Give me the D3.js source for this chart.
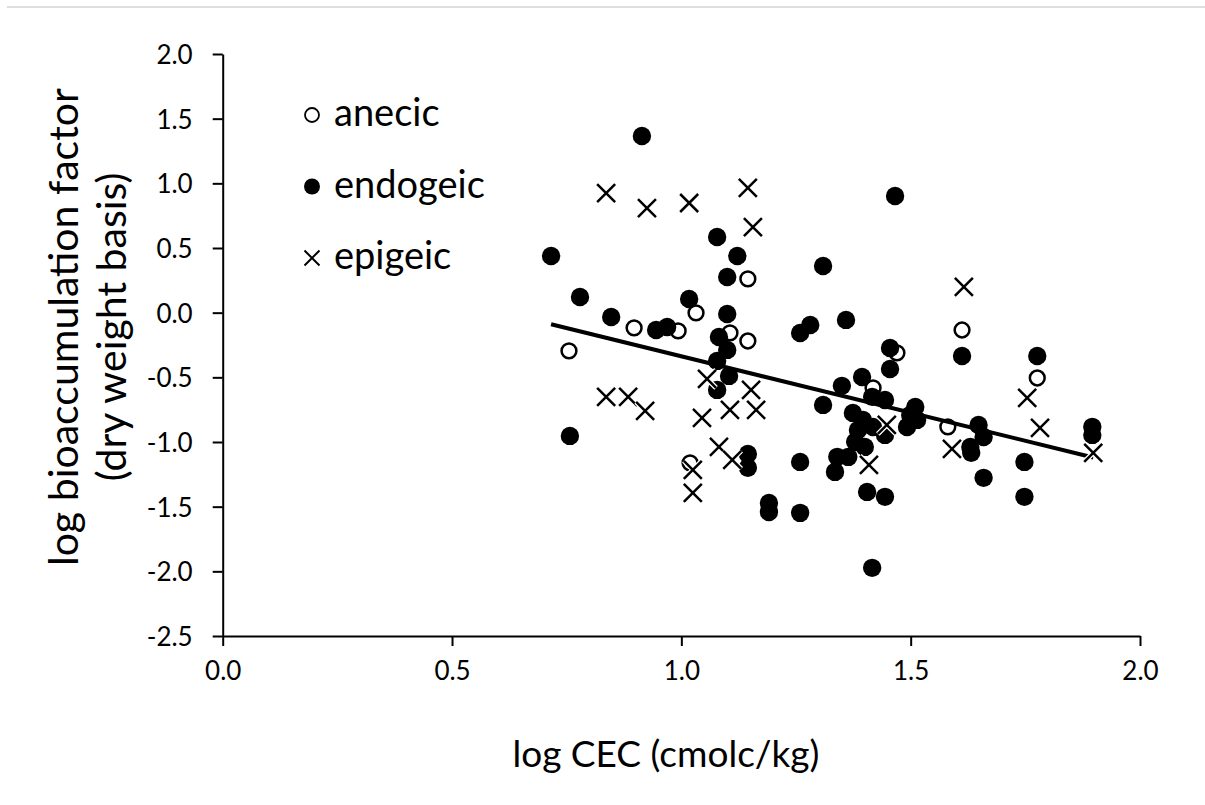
<!DOCTYPE html>
<html>
<head>
<meta charset="utf-8">
<script src="https://cdn.jsdelivr.net/npm/d3@7"></script>
<style>
  body { margin: 0; background: #fff; }
  svg { display: block; font-family: Lato, "Open Sans", sans-serif; }
  .tick text { fill: #000; }
</style>
</head>
<body>
<div id="chart"></div>
<script>
// anecic (open circles): [log CEC, log BAF]
const anecic = [
  [0.755, -0.296], [0.897, -0.118], [0.993, -0.141], [1.032, -0.002],
  [1.106, -0.157], [1.145, -0.219], [1.145, 0.261], [1.019, -1.162],
  [1.418, -0.582], [1.470, -0.311], [1.612, -0.134], [1.581, -0.883],
  [1.776, -0.505]
];

// endogeic (filled circles)
const endogeic = [
  [0.716, 0.438], [0.757, -0.953], [0.779, 0.121], [0.847, -0.033],
  [0.914, 1.366], [0.945, -0.134], [0.969, -0.111], [1.017, 0.106],
  [1.078, 0.585], [1.122, 0.438], [1.100, 0.276], [1.100, -0.010],
  [1.082, -0.188], [1.100, -0.288], [1.078, -0.373], [1.104, -0.489],
  [1.078, -0.597], [1.145, -1.092], [1.145, -1.200], [1.191, -1.472],
  [1.191, -1.542], [1.259, -1.154], [1.259, -1.548], [1.466, 0.902],
  [1.309, 0.361], [1.281, -0.095], [1.259, -0.157], [1.359, -0.056],
  [1.455, -0.273], [1.612, -0.335], [1.455, -0.435], [1.394, -0.497],
  [1.350, -0.566], [1.309, -0.713], [1.416, -0.651], [1.444, -0.675],
  [1.374, -0.775], [1.396, -0.829], [1.385, -0.907], [1.418, -0.884],
  [1.379, -0.999], [1.400, -1.038], [1.444, -0.945], [1.510, -0.729],
  [1.499, -0.791], [1.492, -0.884], [1.514, -0.829], [1.340, -1.115],
  [1.364, -1.115], [1.335, -1.231], [1.405, -1.386], [1.444, -1.424],
  [1.416, -1.973], [1.776, -0.335], [1.896, -0.883], [1.896, -0.945],
  [1.648, -0.868], [1.659, -0.961], [1.630, -1.038], [1.632, -1.084],
  [1.659, -1.277], [1.748, -1.154], [1.748, -1.424]
];

// epigeic (crosses)
const epigeic = [
  [0.836, 0.925], [0.925, 0.809], [1.017, 0.848], [1.145, 0.964],
  [1.156, 0.662], [0.836, -0.651], [0.884, -0.651], [0.921, -0.760],
  [1.056, -0.512], [1.045, -0.814], [1.106, -0.752], [1.152, -0.597],
  [1.163, -0.752], [1.082, -1.038], [1.111, -1.138], [1.025, -1.215],
  [1.025, -1.393], [1.448, -0.868], [1.409, -1.177], [1.616, 0.199],
  [1.590, -1.054], [1.754, -0.659], [1.782, -0.891], [1.898, -1.084]
];

// linear trend, end points
const trend = [[0.716, -0.09], [1.898, -1.12]];

const xTicks = [0.0, 0.5, 1.0, 1.5, 2.0];
const yTicks = [2.0, 1.5, 1.0, 0.5, 0.0, -0.5, -1.0, -1.5, -2.0, -2.5];

const legendItems = ['anecic', 'endogeic', 'epigeic'];

const width = 1205, height = 805;
const margin = {top: 54, left: 222.7, right: 65, bottom: 169};
const innerW = width - margin.left - margin.right;
const innerH = height - margin.top - margin.bottom;

const svg = d3.select('#chart').append('svg')
    .attr('width', width)
    .attr('height', height);

// thin grey rule along the top edge
svg.append('line')
    .attr('x1', 7).attr('x2', width)
    .attr('y1', 7).attr('y2', 7)
    .attr('stroke', '#d4d4d4')
    .attr('stroke-width', 1.5);

const chart = svg.append('g')
    .attr('transform', `translate(${margin.left},${margin.top})`);

const x = d3.scaleLinear().domain([0, 2]).range([0, innerW]);
const y = d3.scaleLinear().domain([-2.5, 2]).range([innerH, 0]);

const fmt = d => d.toFixed(1);

const xAxis = chart.append('g')
    .attr('transform', `translate(0,${innerH})`)
    .call(d3.axisBottom(x).tickValues(xTicks).tickFormat(fmt).tickSizeInner(10).tickSizeOuter(0).tickPadding(14));

const yAxis = chart.append('g')
    .call(d3.axisLeft(y).tickValues(yTicks).tickFormat(fmt).tickSizeInner(10).tickSizeOuter(0).tickPadding(20));

[xAxis, yAxis].forEach(a => {
  a.select('.domain').attr('stroke', '#000').attr('stroke-width', 2);
  a.selectAll('.tick line').attr('stroke', '#000').attr('stroke-width', 2);
  a.selectAll('.tick text').attr('font-size', 26).attr('font-family', 'Lato, sans-serif');
});
yAxis.selectAll('.tick text').attr('dy', '0.36em');
xAxis.selectAll('.tick text').attr('dy', '0.75em');

// axis titles
svg.append('text')
    .attr('x', 666)
    .attr('y', 767)
    .attr('text-anchor', 'middle')
    .attr('font-size', 37)
    .text('log CEC (cmolc/kg)');

const yTitle = svg.append('text')
    .attr('transform', 'translate(0,327) rotate(-90)')
    .attr('text-anchor', 'middle')
    .attr('font-size', 41);
yTitle.append('tspan').attr('x', 0).attr('y', 78).text('log bioaccumulation factor');
yTitle.append('tspan').attr('x', 0).attr('y', 126).text('(dry weight basis)');

// anecic
chart.selectAll('.anecic')
    .data(anecic)
  .join('circle')
    .attr('class', 'anecic')
    .attr('cx', d => x(d[0]))
    .attr('cy', d => y(d[1]))
    .attr('r', 7.4)
    .attr('fill', '#fff')
    .attr('stroke', '#000')
    .attr('stroke-width', 2.5);

// endogeic
chart.selectAll('.endogeic')
    .data(endogeic)
  .join('circle')
    .attr('class', 'endogeic')
    .attr('cx', d => x(d[0]))
    .attr('cy', d => y(d[1]))
    .attr('r', 9.2)
    .attr('fill', '#000');

// trend line
chart.append('line')
    .attr('x1', x(trend[0][0])).attr('y1', y(trend[0][1]))
    .attr('x2', x(trend[1][0])).attr('y2', y(trend[1][1]))
    .attr('stroke', '#000')
    .attr('stroke-width', 4);

// epigeic crosses, with a white edge like the original markers
const crossPath = s => `M${-s},${-s}L${s},${s}M${-s},${s}L${s},${-s}`;
const crosses = chart.selectAll('.epigeic')
    .data(epigeic)
  .join('g')
    .attr('class', 'epigeic')
    .attr('transform', d => `translate(${x(d[0])},${y(d[1])})`);
crosses.append('path')
    .attr('d', crossPath(9))
    .attr('stroke', '#fff')
    .attr('stroke-width', 5);
crosses.append('path')
    .attr('d', crossPath(9))
    .attr('stroke', '#000')
    .attr('stroke-width', 2.5);

// legend
const legend = svg.append('g');
const legendRows = legend.selectAll('g')
    .data(legendItems)
  .join('g')
    .attr('transform', (d, i) => `translate(312,${115 + i * 71.5})`);

legendRows.filter(d => d === 'anecic').append('circle')
    .attr('r', 7).attr('fill', '#fff').attr('stroke', '#000').attr('stroke-width', 1.8);
legendRows.filter(d => d === 'endogeic').append('circle')
    .attr('r', 8).attr('fill', '#000');
legendRows.filter(d => d === 'epigeic').append('path')
    .attr('d', crossPath(7.5)).attr('stroke', '#000').attr('stroke-width', 2);

legendRows.append('text')
    .attr('x', 22)
    .attr('y', 11)
    .attr('font-size', 38)
    .text(d => d);
</script>
</body>
</html>
